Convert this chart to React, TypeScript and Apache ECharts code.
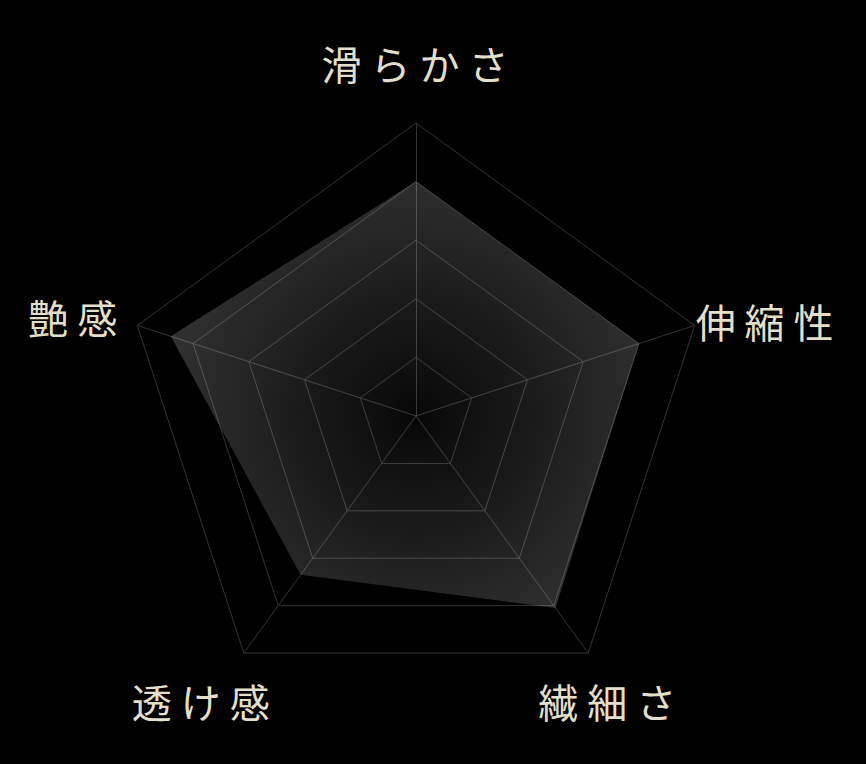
import React, { useEffect, useRef } from 'react';
import * as echarts from 'echarts';

// indicators in ECharts order (counter-clockwise from the top)
const indicatorNames = ['滑らかさ', '艶感', '透け感', '繊細さ', '伸縮性'];
const scores = [80, 88, 67, 81, 80];
const maxScore = 100;

const CENTER_X = 416;
const CENTER_Y = 416;
const RADIUS = 293;

// label placement: offset from each axis end, plus alignment
const labelLayout = [
  { dx: -1, dy: -60, align: 'center' },
  { dx: -20, dy: -8, align: 'right' },
  { dx: -43, dy: 48, align: 'center' },
  { dx: 19, dy: 48, align: 'center' },
  { dx: 1, dy: -4, align: 'left' },
];

const spaced = (s: string) => s.split('').join(' ');

const App: React.FC = () => {
  const chartRef = useRef<HTMLDivElement>(null);

  useEffect(() => {
    document.body.style.margin = '0';
    document.body.style.background = '#000';
    if (!chartRef.current) return;
    const chart = echarts.init(chartRef.current, undefined, { renderer: 'svg' });

    const labels = indicatorNames.map((name, i) => {
      const angle = Math.PI / 2 + (i * 2 * Math.PI) / indicatorNames.length;
      const x = CENTER_X + RADIUS * Math.cos(angle) + labelLayout[i].dx;
      const y = CENTER_Y - RADIUS * Math.sin(angle) + labelLayout[i].dy;
      return {
        type: 'text',
        x,
        y,
        style: {
          text: spaced(name),
          fill: '#e3dfca',
          font: '40px "Noto Sans CJK JP"',
          align: labelLayout[i].align,
          verticalAlign: 'middle',
        },
      };
    });

    chart.setOption({
      animation: false,
      backgroundColor: '#000',
      radar: {
        center: [CENTER_X, CENTER_Y],
        radius: RADIUS,
        startAngle: 90,
        splitNumber: 5,
        shape: 'polygon',
        indicator: indicatorNames.map((name) => ({ name, min: 0, max: maxScore })),
        axisName: { show: false },
        splitArea: { show: false },
        splitLine: { lineStyle: { color: '#333', width: 1 } },
        axisLine: { lineStyle: { color: '#333', width: 1 } },
      },
      graphic: labels,
      series: [
        {
          type: 'radar',
          symbol: 'none',
          lineStyle: { width: 0, opacity: 0 },
          areaStyle: {
            opacity: 1,
            color: new echarts.graphic.RadialGradient(
              CENTER_X,
              CENTER_Y,
              RADIUS,
              [
                { offset: 0, color: 'rgba(255,255,255,0.03)' },
                { offset: 1, color: 'rgba(255,255,255,0.22)' },
              ],
              true
            ),
          },
          data: [{ value: scores, name: 'score' }],
        },
      ],
    });

    return () => {
      chart.dispose();
    };
  }, []);

  return <div ref={chartRef} style={{ width: '866px', height: '764px', background: '#000' }} />;
};

export default App;
